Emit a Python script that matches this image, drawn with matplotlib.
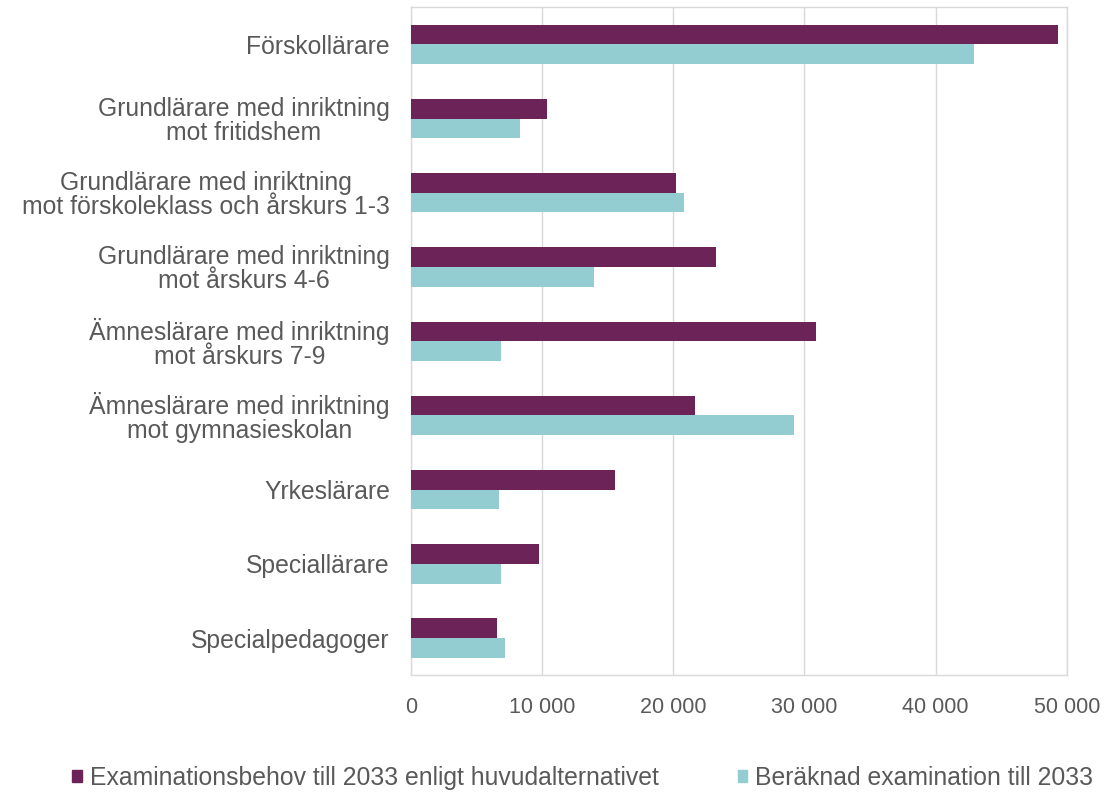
import numpy as np
import matplotlib.pyplot as plt
from matplotlib.patches import Patch
from matplotlib.ticker import FuncFormatter

# Data
categories = [
    "Förskollärare",
    "Grundlärare med inriktning\nmot fritidshem",
    "Grundlärare med inriktning\nmot förskoleklass och årskurs 1-3",
    "Grundlärare med inriktning\nmot årskurs 4-6",
    "Ämneslärare med inriktning\nmot årskurs 7-9",
    "Ämneslärare med inriktning\nmot gymnasieskolan",
    "Yrkeslärare",
    "Speciallärare",
    "Specialpedagoger",
]
behov = [49300, 10400, 20200, 23300, 30900, 21700, 15600, 9800, 6600]
beraknad = [42900, 8300, 20800, 14000, 6900, 29200, 6700, 6900, 7200]

legend_labels = [
    "Examinationsbehov till 2033 enligt huvudalternativet",
    "Beräknad examination till 2033",
]

dark = "#6b2358"
light = "#94cdd1"
text_col = "#595959"
grid_col = "#d9d9d9"

plt.rcParams['font.family'] = ['Liberation Sans', 'DejaVu Sans']

fig = plt.figure(figsize=(11.16, 8), dpi=100)
ax = fig.add_axes([0.368, 0.156, 0.588, 0.835])

y = np.arange(len(categories))
h = 0.265
ax.barh(y - h / 2, behov, height=h, color=dark, zorder=3)
ax.barh(y + h / 2, beraknad, height=h, color=light, zorder=3)

ax.set_ylim(len(categories) - 0.5, -0.5)
ax.set_xlim(0, 50000)
ax.set_xticks(np.arange(0, 50001, 10000))
ax.xaxis.set_major_formatter(FuncFormatter(lambda v, p: f"{int(v):,}".replace(",", " ")))
ax.set_yticks(y)
ax.set_yticklabels(categories, linespacing=1.0, ha="right", multialignment="center",
                   fontsize=17.8)

ax.tick_params(axis="both", length=0, colors=text_col)
ax.tick_params(axis="x", labelsize=15.5, pad=16)
ax.tick_params(axis="y", pad=15)

ax.grid(axis="x", color=grid_col, linewidth=1, zorder=0)
for s in ax.spines.values():
    s.set_color(grid_col)
    s.set_linewidth(1)

handles = [Patch(color=dark), Patch(color=light)]
fig.legend(handles, legend_labels, loc="center", bbox_to_anchor=(0.522, 0.028),
           ncol=2, frameon=False, fontsize=17.8, handlelength=0.4, handleheight=0.4,
           handletextpad=0.3, columnspacing=3.2, labelcolor=text_col)

fig.savefig("out.png", dpi=100)
